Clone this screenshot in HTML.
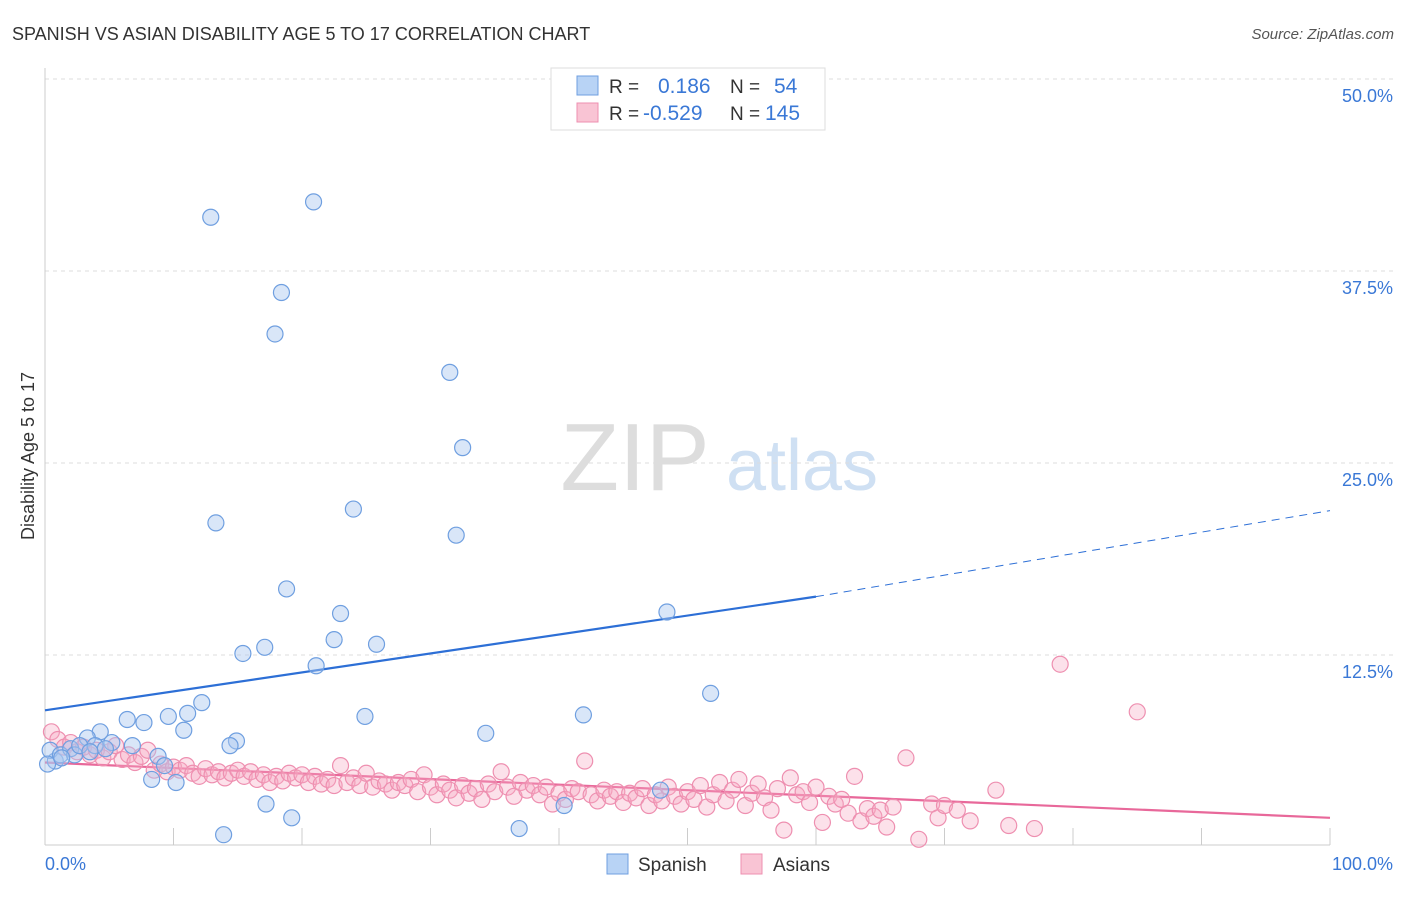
<!DOCTYPE html>
<html><head><meta charset="utf-8"><style>
body{margin:0;background:#fff;font-family:"Liberation Sans",sans-serif}
svg text{font-family:"Liberation Sans",sans-serif}
</style></head><body>
<svg id="chart" width="1406" height="892" viewBox="0 0 1406 892" xmlns="http://www.w3.org/2000/svg">
<text x="12" y="40" font-size="18" fill="#333">SPANISH VS ASIAN DISABILITY AGE 5 TO 17 CORRELATION CHART</text>
<text x="1394" y="39" font-size="15" fill="#555" text-anchor="end" font-style="italic">Source: ZipAtlas.com</text>
<g>
<text x="635" y="490" font-size="96" fill="#ddd" font-family="Liberation Serif" text-anchor="middle">ZIP</text>
<text x="802" y="490" font-size="72" fill="#cfe0f3" text-anchor="middle">atlas</text>
</g>
<g id="grid"></g>
<g id="axes"></g>
<g id="trends"></g>
<g id="points"></g>
<text transform="translate(34,456) rotate(-90)" font-size="18" fill="#333" text-anchor="middle">Disability Age 5 to 17</text>
<g>
<rect x="551" y="68" width="274" height="62" fill="#fff" stroke="#ddd"/>
<rect x="577" y="76" width="21" height="19" fill="#b8d3f5" stroke="#6f9fe0"/>
<rect x="577" y="103" width="21" height="19" fill="#f9c4d4" stroke="#ee8fb0"/>
<text x="609" y="93" font-size="19" fill="#333">R =</text>
<text x="658" y="93" font-size="21" fill="#3a78d6">0.186</text>
<text x="730" y="93" font-size="19" fill="#333">N =</text>
<text x="774" y="93" font-size="21" fill="#3a78d6">54</text>
<text x="609" y="120" font-size="19" fill="#333">R =</text>
<text x="643" y="120" font-size="21" fill="#3a78d6">-0.529</text>
<text x="730" y="120" font-size="19" fill="#333">N =</text>
<text x="765" y="120" font-size="21" fill="#3a78d6">145</text>
</g>
<g>
<rect x="607" y="854" width="21" height="20" fill="#b8d3f5" stroke="#6f9fe0"/>
<text x="638" y="871" font-size="19" fill="#333">Spanish</text>
<rect x="741" y="854" width="21" height="20" fill="#f9c4d4" stroke="#ee8fb0"/>
<text x="773" y="871" font-size="19" fill="#333">Asians</text>
</g>
</svg>
<script>
const yTicks=[12.5,25,37.5,50];
const yTickLabels=["12.5%","25.0%","37.5%","50.0%"];
const xTickLabels=["0.0%","100.0%"];
const spanishX=[12.9,20.9,18.4,17.9,31.5,32.5,13.3,24.0,32.0,18.8,23.0,22.5,25.8,17.1,15.4,21.1,48.4,51.8,12.2,11.1,9.6,10.8,6.4,7.7,4.3,3.3,5.2,6.8,14.9,14.4,41.9,34.3,24.9,8.8,9.3,8.3,10.2,0.8,0.4,1.2,2.0,2.3,2.7,3.9,4.7,17.2,19.2,13.9,36.9,40.4,47.9,0.2,3.5,1.3];
const spanishY=[41.0,42.0,36.1,33.4,30.9,26.0,21.1,22.0,20.3,16.8,15.2,13.5,13.2,13.0,12.6,11.8,15.3,10.0,9.4,8.7,8.5,7.6,8.3,8.1,7.5,7.1,6.8,6.6,6.9,6.6,8.6,7.4,8.5,5.9,5.3,4.4,4.2,5.6,6.3,6.0,6.4,6.0,6.6,6.6,6.4,2.8,1.9,0.8,1.2,2.7,3.7,5.4,6.2,5.8];
const asiansX=[0.5,1,1.5,2,2.5,3,3.5,4,4.5,5,5.5,6,6.5,7,7.5,8,8.5,9,9.5,10,10.5,11,11.5,12,12.5,13,13.5,14,14.5,15,15.5,16,16.5,17,17.5,18,18.5,19,19.5,20,20.5,21,21.5,22,22.5,23,23.5,24,24.5,25,25.5,26,26.5,27,27.5,28,28.5,29,29.5,30,30.5,31,31.5,32,32.5,33,33.5,34,34.5,35,35.5,36,36.5,37,37.5,38,38.5,39,39.5,40,40.5,41,41.5,42,42.5,43,43.5,44,44.5,45,45.5,46,46.5,47,47.5,48,48.5,49,49.5,50,50.5,51,51.5,52,52.5,53,53.5,54,54.5,55,55.5,56,56.5,57,57.5,58,58.5,59,59.5,60,60.5,61,61.5,62,62.5,63,63.5,64,64.5,65,65.5,66,67,68,69,69.5,70,71,72,74,75,77,79,85];
const asiansY=[7.5,7,6.5,6.8,6.2,6.5,6.0,6.3,5.8,6.2,6.6,5.7,6.0,5.5,5.9,6.3,5.0,5.4,4.9,5.2,5.0,5.3,4.8,4.6,5.1,4.7,4.9,4.5,4.8,5.0,4.6,4.9,4.4,4.7,4.2,4.6,4.3,4.8,4.5,4.7,4.2,4.6,4.1,4.4,4.0,5.3,4.2,4.5,4.0,4.8,3.9,4.3,4.1,3.7,4.2,4.0,4.4,3.6,4.7,3.9,3.4,4.1,3.7,3.2,4.0,3.5,3.8,3.1,4.1,3.6,4.9,3.9,3.3,4.2,3.7,4.0,3.4,3.9,2.8,3.5,3.1,3.8,3.6,5.6,3.4,3.0,3.7,3.3,3.6,2.9,3.5,3.2,3.8,2.7,3.4,3.0,3.9,3.3,2.8,3.6,3.1,4.0,2.6,3.4,4.2,3.0,3.7,4.4,2.7,3.5,4.1,3.2,2.4,3.8,1.1,4.5,3.4,3.6,2.9,3.9,1.6,3.3,2.8,3.1,2.2,4.6,1.7,2.5,2.0,2.4,1.3,2.6,5.8,0.5,2.8,1.9,2.7,2.4,1.7,3.7,1.4,1.2,11.9,8.8];
const spanishTrend=[8.9,16.3,21.9];
const asiansTrend=[5.5,1.9];
const NS="http://www.w3.org/2000/svg";
const X=v=>45+v*12.85, Y=v=>847-v*15.36;
function mk(tag,attrs,parent){const e=document.createElementNS(NS,tag);for(const k in attrs)e.setAttribute(k,attrs[k]);parent.appendChild(e);return e;}
const grid=document.getElementById('grid'),axes=document.getElementById('axes'),pts=document.getElementById('points'),tr=document.getElementById('trends');
yTicks.forEach((t,i)=>{
 const l=mk('line',{x1:45,x2:1394,y1:Y(t),y2:Y(t),stroke:'#ddd','stroke-dasharray':'4,4'},grid);
 
 
 const tx=mk('text',{x:1393,y:Y(t)+23,'font-size':18,fill:'#3a78d6','text-anchor':'end'},axes);
 tx.textContent=yTickLabels[i];
 
 
});
mk('line',{x1:45,x2:45,y1:68,y2:845,stroke:'#ccc'},axes);
mk('line',{x1:45,x2:1330,y1:845,y2:845,stroke:'#ccc'},axes);
for(let i=0;i<=10;i++){mk('line',{x1:X(i*10),x2:X(i*10),y1:828,y2:845,stroke:'#ccc'},axes);}
const t0=mk('text',{x:45,y:870,'font-size':18,fill:'#3a78d6'},axes);t0.textContent=xTickLabels[0];


const t1=mk('text',{x:1393,y:870,'font-size':18,fill:'#3a78d6','text-anchor':'end'},axes);t1.textContent=xTickLabels[1];


asiansX.forEach((x,i)=>{const c=mk('circle',{cx:X(x),cy:Y(asiansY[i]),r:8,fill:'rgba(245,170,195,0.35)',stroke:'#ee8fb0','stroke-width':1.2},pts);
 
 });
spanishX.forEach((x,i)=>{const c=mk('circle',{cx:X(x),cy:Y(spanishY[i]),r:8,fill:'rgba(170,200,240,0.45)',stroke:'#6f9fe0','stroke-width':1.2},pts);
 
 });
const b1=mk('line',{x1:X(0),y1:Y(spanishTrend[0]),x2:X(60),y2:Y(spanishTrend[1]),stroke:'#2d6fd6','stroke-width':2.2},tr);


const b2=mk('line',{x1:X(60),y1:Y(spanishTrend[1]),x2:X(100),y2:Y(spanishTrend[2]),stroke:'#2d6fd6','stroke-width':1,'stroke-dasharray':'8,6'},tr);


const p1=mk('line',{x1:X(0),y1:Y(asiansTrend[0]),x2:X(100),y2:Y(asiansTrend[1]),stroke:'#e8689a','stroke-width':2.2},tr);


</script>
</body></html>
